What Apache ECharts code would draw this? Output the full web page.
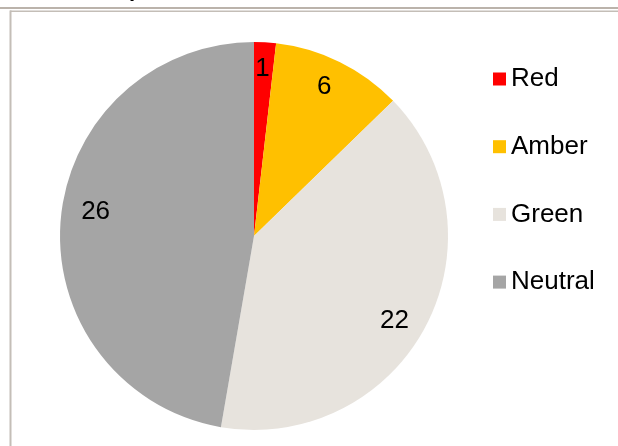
<!DOCTYPE html>
<html>
<head>
<meta charset="utf-8">
<script src="https://cdn.jsdelivr.net/npm/echarts@6/dist/echarts.min.js"></script>
<style>
html,body{margin:0;padding:0;background:#fff;}
#chart{width:618px;height:446px;}
</style>
</head>
<body>
<div id="chart"></div>
<script>
const categories = ["Red", "Amber", "Green", "Neutral"];
const values = [1, 6, 22, 26];
const colors = ["#FF0000", "#FFC000", "#E7E3DD", "#A5A5A5"];

const chart = echarts.init(document.getElementById('chart'), null, {renderer: 'canvas'});
const font = '"Liberation Sans", Arial, sans-serif';
// small label nudges (Excel "best fit" placement), style only
const labelNudge = [[-1, 1], [-4, 2], [-8, 6], [9, -10]];
const data = categories.map((c, i) => ({name: c, value: values[i], itemStyle: {color: colors[i]}}));
const labelData = categories.map((c, i) => ({name: c, value: values[i], label: {offset: labelNudge[i]}}));

chart.setOption({
  animation: false,
  backgroundColor: '#ffffff',
  graphic: [
    {type: 'rect', shape: {x: 0, y: 7, width: 618, height: 2}, style: {fill: '#BBB3AB'}, silent: true},
    {type: 'rect', shape: {x: 10, y: 10.5, width: 608, height: 1.5}, style: {fill: '#C4BEB7'}, silent: true},
    {type: 'rect', shape: {x: 9.5, y: 10.5, width: 2, height: 436}, style: {fill: '#C4BEB7'}, silent: true},
    {type: 'text', x: 129, y: 1, style: {text: 'p', font: 'bold 22px ' + font, fill: '#000', verticalAlign: 'bottom'}, silent: true}
  ],
  legend: {
    orient: 'vertical',
    left: 493,
    top: 66,
    padding: 0,
    itemWidth: 13,
    itemHeight: 13,
    itemGap: 41.7,
    icon: 'rect',
    data: categories,
    textStyle: {fontFamily: font, fontSize: 26, lineHeight: 26, color: '#000'}
  },
  series: [
    {
      type: 'pie',
      center: [254, 236],
      radius: [0, 194],
      startAngle: 90,
      clockwise: true,
      label: {show: false},
      labelLine: {show: false},
      emphasis: {disabled: true},
      itemStyle: {borderWidth: 0},
      data: data
    },
    {
      type: 'pie',
      center: [254, 236],
      radius: [136, 194],
      startAngle: 90,
      clockwise: true,
      silent: true,
      itemStyle: {color: 'rgba(0,0,0,0)', borderWidth: 0},
      emphasis: {disabled: true},
      label: {show: true, position: 'inside', formatter: '{c}', fontFamily: font, fontSize: 26, color: '#000'},
      labelLine: {show: false},
      data: labelData
    }
  ]
});
</script>
</body>
</html>
